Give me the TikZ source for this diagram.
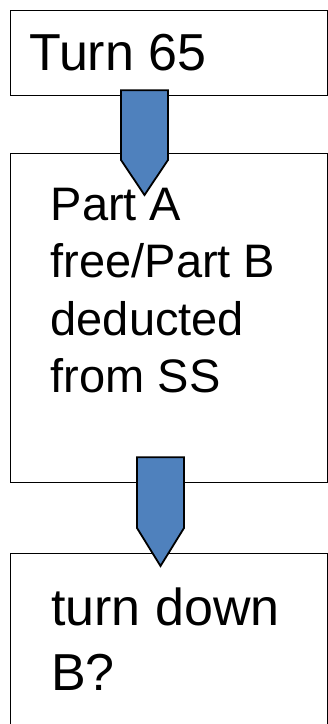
\documentclass[tikz,border=0pt]{standalone}
\usepackage{fontspec}
\setmainfont{Liberation Sans}
\usetikzlibrary{calc}
\definecolor{arrowblue}{HTML}{4F81BD}
\begin{document}
\begin{tikzpicture}[x=1pt,y=-1pt,
  box/.style={draw=black,line width=1.2pt,minimum width=317pt,anchor=north west,inner sep=0pt,fill=white},
  lbl/.style={anchor=base west,inner sep=0pt,align=left,text=black},
  blockarrow/.style={draw=black,line width=1.8pt,fill=arrowblue,line join=miter}]
\useasboundingbox (0,0) rectangle (328,724);
\clip (0,0) rectangle (328,724);
\fill[white] (0,0) rectangle (328,724);
% boxes
\node[box,minimum height=85pt] (b1) at (9.5,9.5) {};
\node[box,minimum height=329pt] (b2) at (9.5,153) {};
\node[box,minimum height=200pt] (b3) at (9.5,553) {};
% texts (base anchor = baseline of the last line)
\node[lbl,font=\fontsize{52}{60}\selectfont] (t1) at (29,70.5) {Turn 65};
\node[lbl,font=\fontsize{47}{57.5}\selectfont] (t2) at (50.5,392.5) {Part A\\free/Part B\\deducted\\from SS};
\node[lbl,font=\fontsize{52}{65}\selectfont] (t3) at (51,690) {turn down\\B?};
% arrows
\coordinate (a1top) at ($(b1.south west)+(135,-5.5)$);
\coordinate (a1tip) at ($(b2.north west)+(135,42)$);
\draw[blockarrow] ($(a1top)+(-23.5,0)$) -- ($(a1top)+(23.5,0)$) -- ($(a1tip)+(23.5,-35)$) -- (a1tip) -- ($(a1tip)+(-23.5,-35)$) -- cycle;
\coordinate (a2top) at ($(b2.south west)+(151,-26)$);
\coordinate (a2tip) at ($(b3.north west)+(151,13)$);
\draw[blockarrow] ($(a2top)+(-23.5,0)$) -- ($(a2top)+(23.5,0)$) -- ($(a2tip)+(23.5,-38)$) -- (a2tip) -- ($(a2tip)+(-23.5,-38)$) -- cycle;
\end{tikzpicture}
\end{document}
